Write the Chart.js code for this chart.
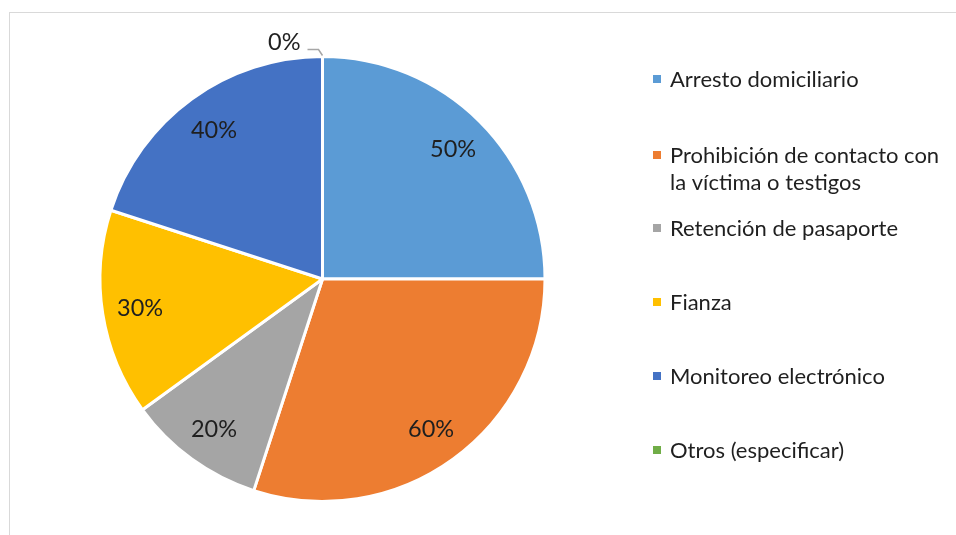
<!DOCTYPE html>
<html>
<head>
<meta charset="utf-8">
<script src="https://cdn.jsdelivr.net/npm/chart.js@4.4.1/dist/chart.umd.min.js"></script>
<style>
  html, body { margin: 0; padding: 0; background: #fff; }
  #wrap { position: relative; width: 956px; height: 535px; }
  #frame { position: absolute; left: 9px; top: 12px; width: 960px; height: 540px;
           border-left: 1px solid #d9d9d9; border-top: 1px solid #d9d9d9; box-sizing: border-box; }
  canvas { position: absolute; left: 0; top: 0; }
</style>
</head>
<body>
<div id="wrap">
  <div id="frame"></div>
  <canvas id="c" width="956" height="535"></canvas>
</div>
<script>
const categories = [
  "Arresto domiciliario",
  "Prohibición de contacto con la víctima o testigos",
  "Retención de pasaporte",
  "Fianza",
  "Monitoreo electrónico",
  "Otros (especificar)"
];
const legendLines = [
  ["Arresto domiciliario"],
  ["Prohibición de contacto con", "la víctima o testigos"],
  ["Retención de pasaporte"],
  ["Fianza"],
  ["Monitoreo electrónico"],
  ["Otros (especificar)"]
];
const values = [50, 60, 20, 30, 40, 0];
const valueLabels = ["50%", "60%", "20%", "30%", "40%", "0%"];
const colors = ["#5B9BD5", "#ED7D31", "#A5A5A5", "#FFC000", "#4472C4", "#70AD47"];

const LABEL_SIZE = 23.5;
const LEGEND_SIZE = 22;
const FAMILY = 'Lato, "Open Sans", sans-serif';
const TEXT = '#1f1f1f';

const labelPlugin = {
  id: 'sliceLabels',
  afterDatasetsDraw(chart) {
    const ctx = chart.ctx;
    const meta = chart.getDatasetMeta(0);
    ctx.save();
    ctx.font = LABEL_SIZE + 'px ' + FAMILY;
    ctx.fillStyle = TEXT;
    ctx.textBaseline = 'alphabetic';
    const half = LABEL_SIZE * 0.36;
    meta.data.forEach((arc, i) => {
      const p = arc.getProps(['x', 'y', 'startAngle', 'endAngle', 'outerRadius'], true);
      const mid = (p.startAngle + p.endAngle) / 2;
      if (values[i] === 0) {
        const ex = p.x + Math.cos(mid) * (p.outerRadius - 1);
        const ey = p.y + Math.sin(mid) * (p.outerRadius - 1);
        ctx.strokeStyle = '#a6a6a6';
        ctx.lineWidth = 1.5;
        ctx.beginPath();
        ctx.moveTo(ex, ey - 2);
        ctx.lineTo(ex - 4, ey - 8);
        ctx.lineTo(ex - 15, ey - 8);
        ctx.stroke();
        ctx.textAlign = 'right';
        ctx.fillText(valueLabels[i], ex - 22, ey - 16 + half);
      } else {
        const r = p.outerRadius * 0.83;
        ctx.textAlign = 'center';
        ctx.fillText(valueLabels[i], p.x + Math.cos(mid) * r, p.y + Math.sin(mid) * r + half);
      }
    });
    ctx.restore();
  }
};

const legendPlugin = {
  id: 'sideLegend',
  afterDraw(chart) {
    const ctx = chart.ctx;
    const rows = [79, 155, 228, 302, 376, 450];
    ctx.save();
    ctx.font = LEGEND_SIZE + 'px ' + FAMILY;
    ctx.textAlign = 'left';
    ctx.textBaseline = 'alphabetic';
    const half = LEGEND_SIZE * 0.36;
    legendLines.forEach((lines, i) => {
      const y = rows[i];
      ctx.fillStyle = colors[i];
      ctx.fillRect(653, y - 4, 8, 8);
      ctx.fillStyle = TEXT;
      lines.forEach((t, k) => ctx.fillText(t, 670, y + half + k * 27));
    });
    ctx.restore();
  }
};

new Chart(document.getElementById('c'), {
  type: 'pie',
  data: {
    labels: categories,
    datasets: [{
      data: values,
      backgroundColor: colors,
      borderColor: '#ffffff',
      borderWidth: 3
    }]
  },
  options: {
    responsive: false,
    animation: false,
    layout: { padding: { left: 98.5, right: 409.5, top: 55, bottom: 32 } },
    plugins: {
      legend: { display: false },
      tooltip: { enabled: false }
    }
  },
  plugins: [labelPlugin, legendPlugin]
});
</script>
</body>
</html>
